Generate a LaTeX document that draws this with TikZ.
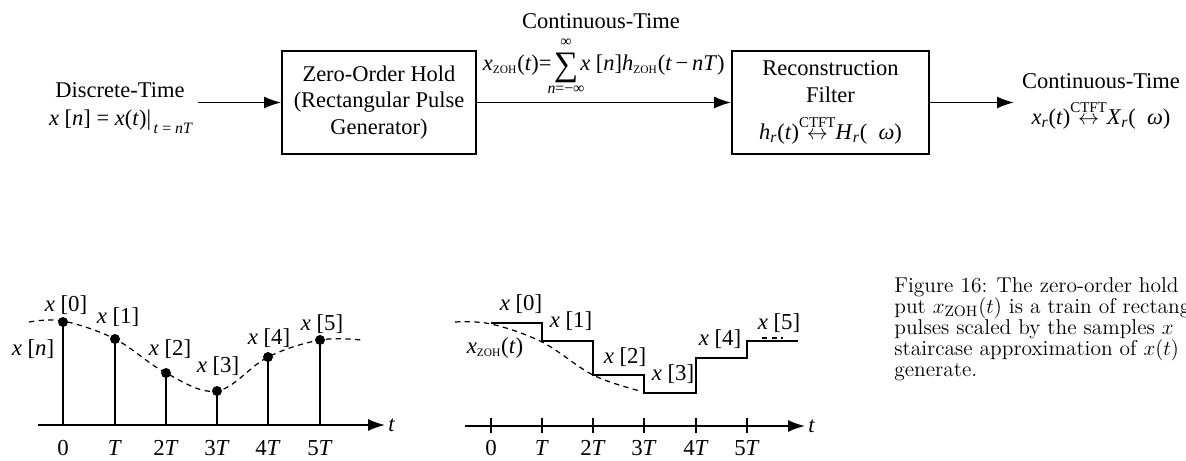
\documentclass[tikz,border=0pt]{standalone}
\usepackage{amsmath}
\usepackage{fontspec}
\newfontfamily\tms{Liberation Serif}
\usetikzlibrary{arrows.meta,positioning}
\newcommand\lsub[1]{$_{\textit{#1}}$}
\newcommand\zohsub{$_{\textup{\fontsize{6.5}{7}\selectfont ZOH}}$}
\newcommand\ctft{$\overset{\text{\fontsize{8.5}{9}\selectfont CTFT}}{\leftrightarrow}$}

\begin{document}
\begin{tikzpicture}[x=0.02cm, y=-0.02cm,
  every node/.style={font=\tms\fontsize{12.8}{15.1}\selectfont, inner sep=0pt},
  blockbox/.style={draw, line width=1pt, minimum height=2.06cm, align=center, inner sep=2pt},
  sigarrow/.style={line width=1pt, -{Latex[length=3.4mm,width=2.4mm]}},
  lbl/.style={anchor=base, font=\tms\fontsize{13}{15}\selectfont},
  limit/.style={anchor=base, font=\tms\fontsize{9}{10}\selectfont},
  caption/.style={anchor=base west, font=\fontsize{12.2}{14}\selectfont},
  curve/.style={dash pattern=on 3pt off 2.5pt, line width=0.7pt},
  stem/.style={line width=1pt},
  sample/.style={circle, fill, inner sep=0pt, minimum size=0.2cm}]
\useasboundingbox (0,0) rectangle (1186,460);
% block diagram
\node[blockbox, minimum width=3.88cm] (zoh) at (379,102.5) {Zero-Order Hold\\(Rectangular Pulse\\Generator)};
\node[blockbox, minimum width=3.94cm] (recon) at (830.5,102.5)
  {Reconstruction\\Filter\\[6pt]\textit{h}\lsub{r}(\textit{t})\ctft\textit{H}\lsub{r}(\enspace\textit{ω})};
\coordinate (src) at (198,102.5);
\coordinate (sink) at (1014,102.5);
\draw[sigarrow] (src) -- (zoh);
\draw[sigarrow] (zoh) -- (recon);
\draw[sigarrow] (recon) -- (sink);
% input and output labels
\node[anchor=base] (dtin) at (120,97) {Discrete-Time};
\node[anchor=base] (dteq) at (121,125)
  {\textit{x} [\textit{n}] = \textit{x}(\textit{t})|\raisebox{-5pt}{\fontsize{9}{9}\selectfont\,\textit{t} = \textit{nT}}};
\node[anchor=base] (ctmid) at (601,28) {Continuous-Time};
\node[anchor=base] (sumsym) at (566,75) {\fontsize{19.5}{20}\selectfont ∑};
\node[anchor=base east] (cteql) at (552,70) {\textit{x}\zohsub(\textit{t})=};
\node[anchor=base west] (cteqr) at (580,70) {\textit{x} [\textit{n}]\textit{h}\zohsub(\textit{t}\,−\,\textit{nT})};
\node[limit] (suplim) at (566,46) {∞};
\node[limit] (sublim) at (566,93) {\textit{n}=−∞};
\node[anchor=base] (ctout) at (1101,88) {Continuous-Time};
\node[anchor=base] (cteqout) at (1101,124)
  {\textit{x}\lsub{r}(\textit{t})\ctft\textit{X}\lsub{r}(\enspace\textit{ω})};
% sampled signal
\draw[stem, -{Latex[length=3.4mm,width=2.4mm]}] (38,425) -- (385,425);
\node[anchor=west] (taxl) at (388,425) {\textit{t}};
\foreach \x/\y in {63/322,115/339,166/373,217/391,268/357,320/340} {
  \draw[stem] (\x,425) -- (\x,\y);
  \node[sample] (s\x) at (\x,\y) {};
}
\draw[curve] plot[smooth, tension=0.6] coordinates {(29,322) (63,321) (115,339) (166,373) (217,391) (268,357) (320,340) (361,340)};
\foreach \x/\t in {63/0,115/\textit{T},166/2\textit{T},217/3\textit{T},268/4\textit{T},320/5\textit{T}}
  \node[lbl] (tl\x) at (\x,455) {\t};
\node[lbl] (xn) at (33,355) {\textit{x} [\textit{n}]};
\node[lbl] (xa0) at (66,311) {\textit{x} [0]};
\node[lbl] (xa1) at (118,323) {\textit{x} [1]};
\node[lbl] (xa2) at (170,355) {\textit{x} [2]};
\node[lbl] (xa3) at (218,372) {\textit{x} [3]};
\node[lbl] (xa4) at (269,344) {\textit{x} [4]};
\node[lbl] (xa5) at (322,330) {\textit{x} [5]};
% zero-order hold output
\draw[stem, -{Latex[length=3.4mm,width=2.4mm]}] (465,426) -- (805,426);
\node[anchor=west] (taxr) at (808,426) {\textit{t}};
\foreach \x/\t in {491/0,542/\textit{T},593/2\textit{T},644/3\textit{T},696/4\textit{T},747/5\textit{T}} {
  \draw[stem] (\x,418) -- (\x,433);
  \node[lbl] (tr\x) at (\x,455) {\t};
}
\draw[stem] (491,323) -- (542,323) -- (542,341) -- (593,341) -- (593,375) -- (644,375)
  -- (644,393) -- (696,393) -- (696,358) -- (747,358) -- (747,341) -- (798,341);
\draw[curve] plot[smooth, tension=0.6] coordinates {(455,322) (491,324) (542,342) (593,375) (640,391)};
\draw[curve] (762,338) -- (783,338);
\node[lbl] (xzoh) at (495,353) {\textit{x}\zohsub(\textit{t})};
\node[lbl] (xb0) at (521,310) {\textit{x} [0]};
\node[lbl] (xb1) at (571,327) {\textit{x} [1]};
\node[lbl] (xb2) at (625,363) {\textit{x} [2]};
\node[lbl] (xb3) at (673,380) {\textit{x} [3]};
\node[lbl] (xb4) at (720,345) {\textit{x} [4]};
\node[lbl] (xb5) at (779,329) {\textit{x} [5]};
% caption
\node[caption] (cap1) at (894,292) {Figure 16: The zero-order hold};
\node[caption] (cap2) at (894,313) {put $x_{\mathrm{ZOH}}(t)$ is a train of rectang};
\node[caption] (cap3) at (894,334) {pulses scaled by the samples $x$};
\node[caption] (cap4) at (894,355) {staircase approximation of $x(t)$};
\node[caption] (cap5) at (894,376) {generate.};
\end{tikzpicture}
\end{document}
